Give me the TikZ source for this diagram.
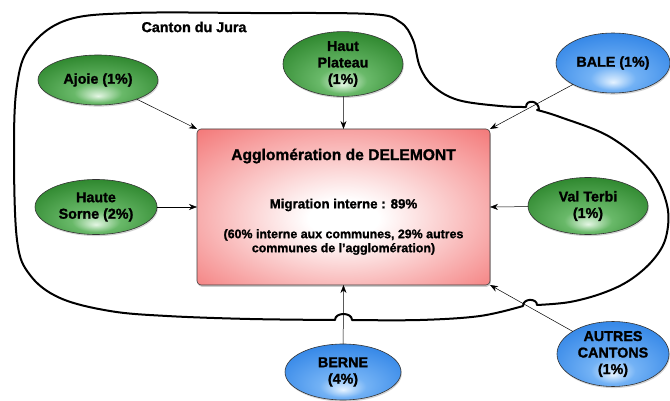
\documentclass[tikz,border=0pt]{standalone}
\usepackage{fontspec}
\setmainfont[BoldFeatures={FakeBold=1.3}]{Liberation Sans}
\usetikzlibrary{arrows.meta,shadows,shapes.geometric}
\definecolor{gDark}{RGB}{34,125,34}
\definecolor{gMid}{RGB}{105,185,105}
\definecolor{gLight}{RGB}{228,246,228}
\definecolor{bDark}{RGB}{38,125,228}
\definecolor{bMid}{RGB}{115,178,245}
\definecolor{bLight}{RGB}{228,242,255}
\definecolor{rEdge}{RGB}{240,80,80}
\pgfdeclareradialshading{greenglow}{\pgfpoint{0bp}{-16bp}}{color(0bp)=(gLight); color(10bp)=(gMid); color(36bp)=(gDark); color(50bp)=(gDark)}
\pgfdeclareradialshading{blueglow}{\pgfpoint{0bp}{-16bp}}{color(0bp)=(bLight); color(10bp)=(bMid); color(36bp)=(bDark); color(50bp)=(bDark)}
\pgfdeclareradialshading{redglow}{\pgfpoint{0bp}{-4bp}}{color(0bp)=(white); color(6bp)=(white); color(46bp)=(rEdge); color(72bp)=(rEdge)}
\tikzset{
  region/.style={ellipse, draw=black!80, line width=0.6pt, inner sep=0pt, outer sep=0pt,
    align=center, font=\fontsize{14.3}{16.5}\selectfont\bfseries,
    drop shadow={shadow xshift=0.8pt, shadow yshift=-1.6pt, opacity=0.35}},
  local/.style={region, shading=greenglow},
  outside/.style={region, shading=blueglow},
  aggbox/.style={rectangle, rounded corners=4pt, draw=black!75, line width=0.6pt, shading=redglow,
    outer sep=0pt, drop shadow={shadow xshift=0.8pt, shadow yshift=-1.8pt, opacity=0.4}},
  arr/.style={-{Stealth[length=8pt,width=6pt]}, line width=0.5pt, black},
  outline/.style={line width=2pt, black, line join=round},
  boxtext/.style={font=\bfseries, inner sep=0pt}
}
\begin{document}
\begin{tikzpicture}[x=1pt,y=-1pt]
\useasboundingbox (0,0) rectangle (670,401);
% outline of the canton
\draw[outline]
  plot[smooth, tension=0.6] coordinates {(537,110) (560,117) (610,137) (650,170) (667,205) (666,237) (653,260) (630,280) (603,293) (570,302) (537,305)}
  .. controls (537,298) and (523,298) .. (523,306)
  -- plot[smooth, tension=0.6] coordinates {(523,306) (480,316) (420,320) (352,320)}
  .. controls (352,312) and (335,312) .. (335,320)
  -- plot[smooth, tension=0.6] coordinates {(335,320) (250,319) (167,316) (110,311) (60,298) (30,275) (17,240) (14,150) (17,85) (30,47) (67,20) (133,13) (250,13) (370,14) (400,22) (413,40) (420,67) (433,86) (458,100) (500,106) (526,107)}
  .. controls (526,99) and (539,100) .. (539,110) -- cycle;
\node[font=\fontsize{14.3}{16}\selectfont\bfseries] (canton) at (194,27) {Canton du Jura};
% central box
\node[aggbox, minimum width=293pt, minimum height=156pt] (box) at (343.5,207) {};
\node[boxtext, font=\fontsize{15.6}{18}\selectfont\bfseries] (title) at (343.5,156) {Agglomération de DELEMONT};
\node[boxtext, font=\fontsize{13.3}{15}\selectfont\bfseries] (mig) at (343.5,205) {Migration interne : 89\%};
\node[boxtext, font=\fontsize{12.4}{14}\selectfont\bfseries, align=center] (detail) at (343.5,242) {(60\% interne aux communes, 29\% autres\\communes de l’agglomération)};
% regions
\node[local, minimum width=120pt, minimum height=50pt] (ajoie) at (98,80) {Ajoie (1\%)};
\node[local, minimum width=120pt, minimum height=60pt] (haut) at (343,64) {Haut\\Plateau\\(1\%)};
\node[outside, minimum width=114pt, minimum height=60pt] (bale) at (613,63) {BALE (1\%)};
\node[local, minimum width=122pt, minimum height=55pt] (sorne) at (96,207) {Haute\\Sorne (2\%)};
\node[local, minimum width=120pt, minimum height=57pt] (terbi) at (588,206) {Val Terbi\\(1\%)};
\node[outside, minimum width=116pt, minimum height=56pt] (berne) at (343,372) {BERNE\\(4\%)};
\node[outside, minimum width=112pt, minimum height=64pt] (autres) at (613,354) {AUTRES\\CANTONS\\(1\%)};
% arrows
\draw[arr] (ajoie) -- (box.north west);
\draw[arr] (haut) -- (box.north);
\draw[arr] (bale) -- (box.north east);
\draw[arr] (sorne) -- (box.west);
\draw[arr] (terbi) -- (box.east);
\draw[arr] (berne) -- (box.south);
\draw[arr] (autres) -- (box.south east);
\end{tikzpicture}
\end{document}
